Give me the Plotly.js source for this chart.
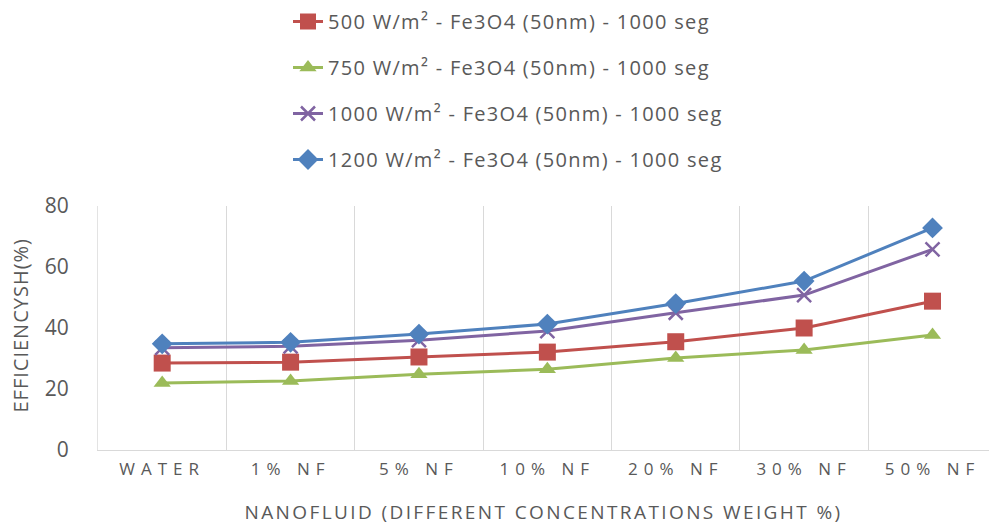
<!DOCTYPE html>
<html>
<head>
<meta charset="utf-8">
<script src="https://cdn.plot.ly/plotly-3.0.1.min.js"></script>
<style>
  html, body { margin: 0; padding: 0; background: #fff; }
  #chart { width: 989px; height: 525px; }
  .xtick text { letter-spacing: 6px; }
  .g-xtitle text { letter-spacing: 2.4px; }
  .legendtext { letter-spacing: 1.3px; }
  .annotation-text { letter-spacing: 1px; }
</style>
</head>
<body>
<div id="chart"></div>
<script>
// Concentration categories along the x axis
const categories = ['WATER', '1% NF', '5% NF', '10% NF', '20% NF', '30% NF', '50% NF'];

// Efficiency SH (%) for each irradiance level
const eff500  = [28.5, 28.8, 30.5, 32.1, 35.5, 40.0, 48.8];
const eff750  = [22.0, 22.6, 24.8, 26.5, 30.2, 32.8, 37.7];
const eff1000 = [33.5, 34.0, 36.0, 39.0, 45.0, 50.8, 65.8];
const eff1200 = [34.8, 35.3, 38.0, 41.3, 48.0, 55.4, 72.8];

const seriesNames = [
  '500 W/m² - Fe3O4 (50nm) - 1000 seg',
  '750 W/m² - Fe3O4 (50nm) - 1000 seg',
  '1000 W/m² - Fe3O4 (50nm) - 1000 seg',
  '1200 W/m² - Fe3O4 (50nm) - 1000 seg'
];
const yTitle = 'EFFICIENCYSH(%)';

const FONT = 'Open Sans, sans-serif';
const TEXT = '#595959';

function series(name, y, color, symbol, size, group) {
  return {
    type: 'scatter', mode: 'lines+markers', name: name,
    x: categories, y: y, legendgroup: group,
    line: { color: color, width: 3 },
    marker: { color: color, symbol: symbol, size: size,
              line: { color: color, width: symbol === 'x-thin' ? 2.5 : 0 } }
  };
}

const traces = [
  series(seriesNames[0], eff500,  '#C0504D', 'square',  17, 'a'),
  series(seriesNames[1], eff750,  '#9BBB59', 'triangle-up', 15, 'b'),
  series(seriesNames[2], eff1000, '#8064A2', 'x-thin', 14, 'c'),
  series(seriesNames[3], eff1200, '#4F81BD', 'diamond', 16, 'd')
];

const layout = {
  width: 989, height: 525,
  margin: { l: 98, r: 0, t: 206, b: 75, autoexpand: false },
  paper_bgcolor: '#fff', plot_bgcolor: '#fff',
  font: { family: FONT, color: TEXT },
  showlegend: true,
  legend: {
    x: 288 / 989, y: 1 - 2 / 525, xref: 'container', yref: 'container',
    xanchor: 'left', yanchor: 'top',
    font: { family: FONT, size: 20, color: TEXT },
    tracegroupgap: 17,
    bgcolor: 'rgba(0,0,0,0)'
  },
  xaxis: {
    type: 'category',
    range: [-0.5, 6.44],
    automargin: false,
    tickangle: 0,
    tickson: 'boundaries',
    showgrid: true, gridcolor: '#d9d9d9', gridwidth: 1,
    showline: true, linecolor: '#d9d9d9', linewidth: 1,
    ticks: '', zeroline: false,
    ticklabelstandoff: 4,
    tickfont: { family: FONT, size: 17, color: TEXT },
    title: { text: 'NANOFLUID (DIFFERENT CONCENTRATIONS WEIGHT %)',
             font: { family: FONT, size: 19, color: TEXT }, standoff: 26 }
  },
  yaxis: {
    range: [0, 80], dtick: 20,
    automargin: false,
    showgrid: false, zeroline: false,
    showline: true, linecolor: '#e3e3e3', linewidth: 1,
    ticks: '',
    ticklabelstandoff: 24,
    tickfont: { family: FONT, size: 21, color: TEXT }
  },
  // vertical axis caption placed left of the tick labels
  annotations: [{
    text: yTitle, textangle: -90, showarrow: false,
    xref: 'paper', yref: 'paper', x: -77 / 891, y: 0.51,
    xanchor: 'center', yanchor: 'middle',
    font: { family: FONT, size: 20, color: TEXT }
  }]
};

Plotly.newPlot('chart', traces, layout, { displayModeBar: false, staticPlot: true });
</script>
</body>
</html>
